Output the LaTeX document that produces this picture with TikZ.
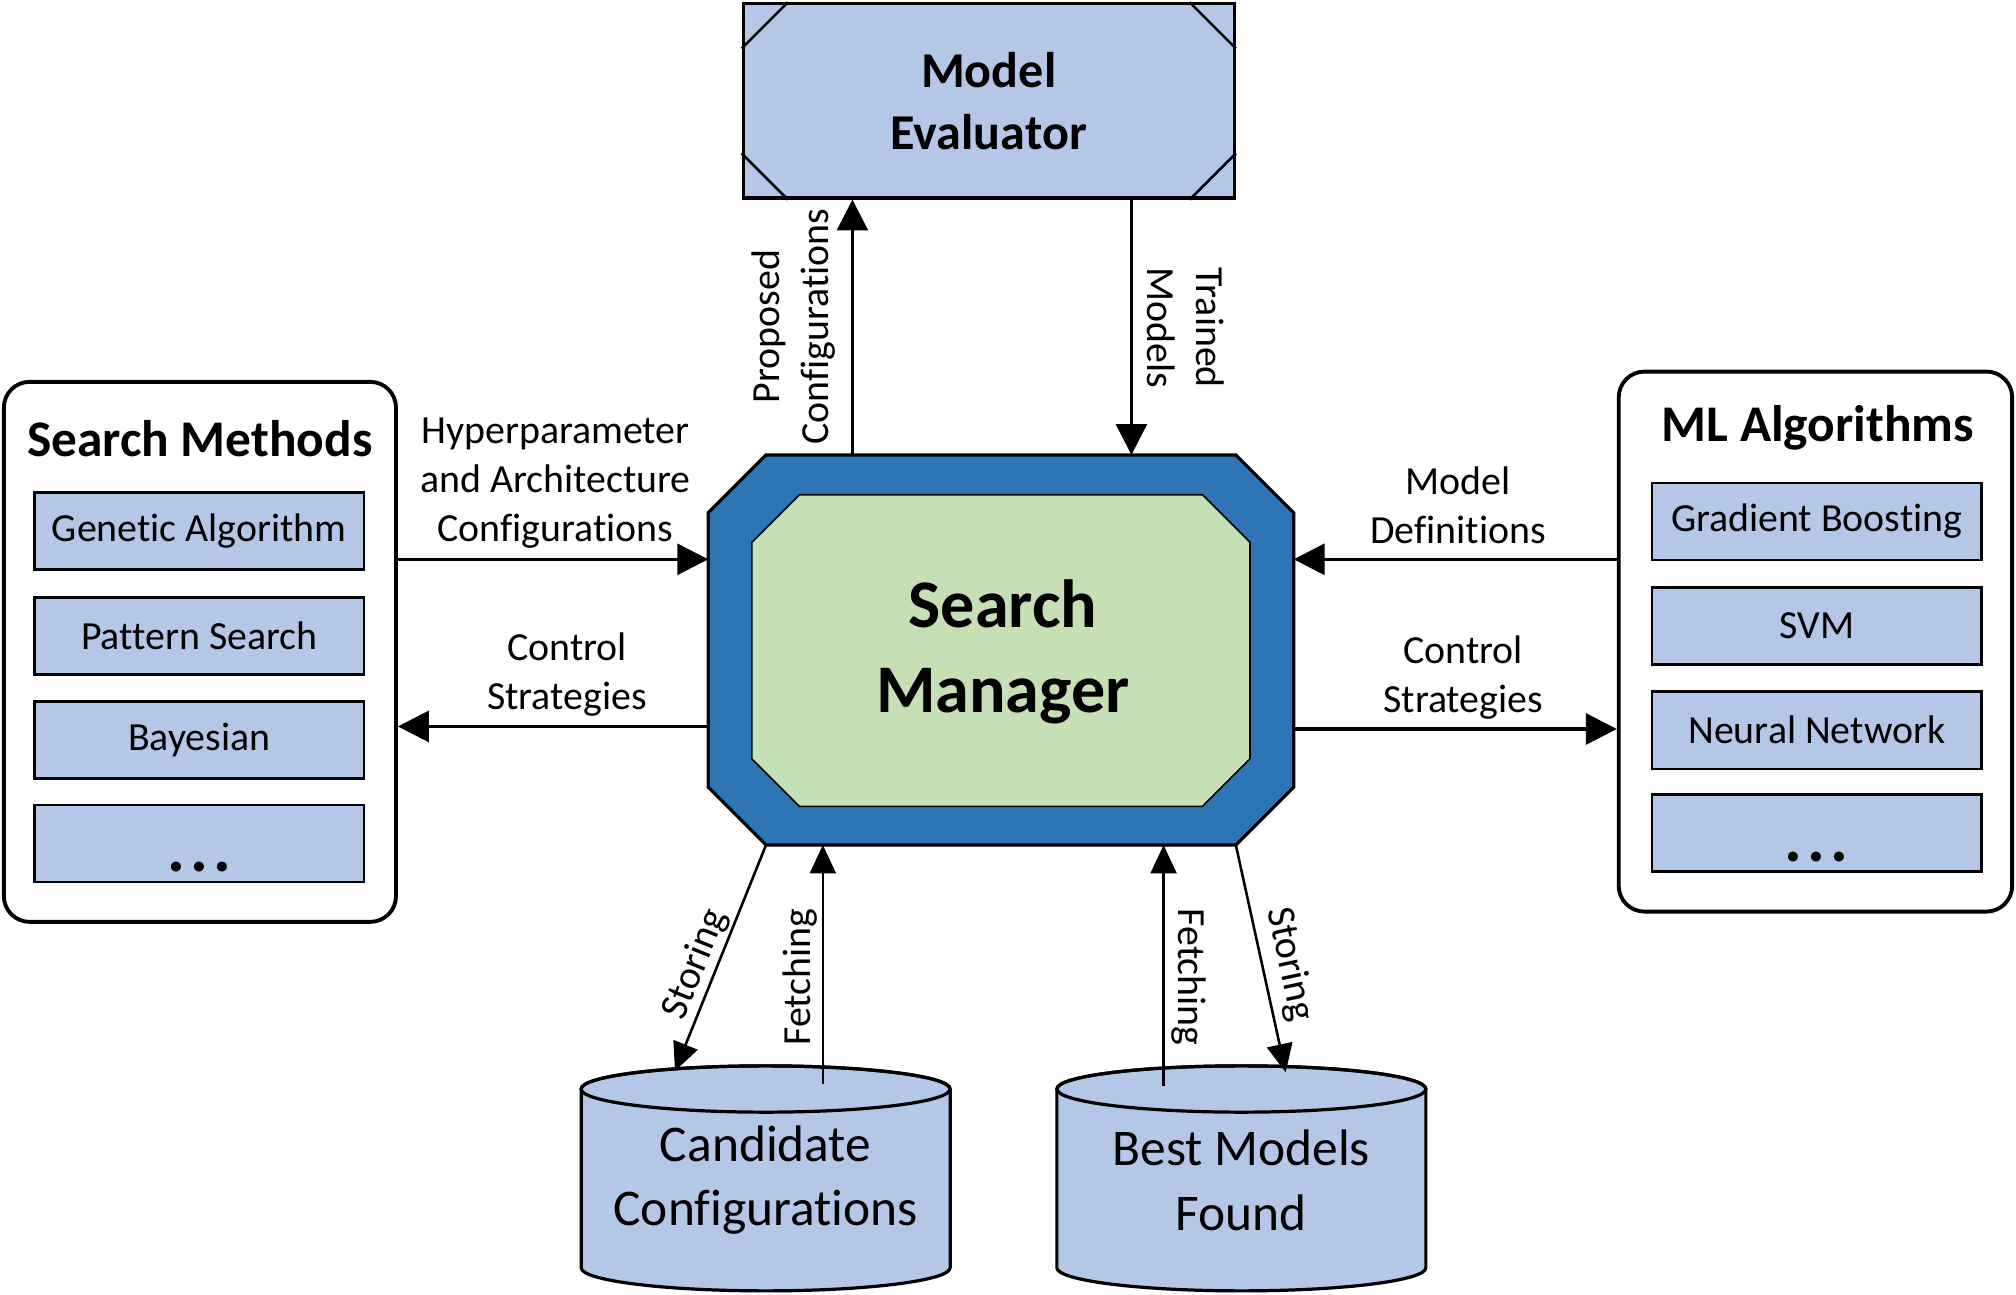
\documentclass[tikz,border=0pt]{standalone}
\usepackage{fontspec}
\setmainfont{Carlito}[Ligatures={NoCommon}]
\usetikzlibrary{arrows.meta,calc}
\definecolor{lblue}{HTML}{B4C7E7}
\definecolor{dblue}{HTML}{2E75B6}
\definecolor{lgreen}{HTML}{C5E0B4}
\begin{document}
\begin{tikzpicture}[x=1pt,y=-1pt,
  lbl/.style={font=\fontsize{31}{38}\selectfont, align=center, inner sep=0pt},
  item/.style={draw, fill=lblue, line width=2pt, minimum width=256pt, minimum height=60pt, inner sep=0pt, font=\fontsize{31}{38}\selectfont},
  panel/.style={draw, line width=3pt, rounded corners=20pt, fill=white},
  ttl/.style={font=\fontsize{40}{48}\bfseries\selectfont, inner sep=0pt},
  dots/.style={font=\fontsize{52}{52}\bfseries\selectfont, inner sep=0pt, anchor=base},
  arr/.style={line width=2.5pt, -{Triangle[length=24pt,width=24pt]}},
  sarr/.style={line width=2pt, -{Triangle[length=22pt,width=20pt]}},
  cylshape/.style={draw, line width=2.5pt, fill=lblue},
  cyltext/.style={font=\fontsize{40}{50}\selectfont, align=center, inner sep=0pt},
]
\useasboundingbox (0,0) rectangle (1568,1007);

% ---------- Search Methods panel
\node[panel, minimum width=305pt, minimum height=420pt] (smeth) at (155.5,507) {};
\node[ttl] (smethT) at (155.5,341) {Search Methods};
\node[item] (s1) at (155,413) {Genetic Algorithm};
\node[item] (s2) at (155,494.5) {Pattern Search};
\node[item] (s3) at (155,575.5) {Bayesian};
\node[item] (s4) at (155,656) {};
\node[dots] (s4d) at (155,678) {.\hspace{4pt}.\hspace{4pt}.};

% ---------- ML Algorithms panel
\node[panel, minimum width=306pt, minimum height=420pt] (mla) at (1412,499) {};
\node[ttl] (mlaT) at (1414,333) {ML Algorithms};
\node[item] (m1) at (1413,405.5) {Gradient Boosting};
\node[item] (m2) at (1413,487) {SVM};
\node[item] (m3) at (1413,568) {Neural Network};
\node[item] (m4) at (1413,648) {};
\node[dots] (m4d) at (1413,670) {.\hspace{4pt}.\hspace{4pt}.};

% ---------- Model Evaluator
\node[draw, fill=lblue, line width=2.5pt, minimum width=382pt, minimum height=151pt,
      font=\fontsize{39}{48}\bfseries\selectfont, align=center, inner sep=0pt] (me) at (769,78.5) {Model\\Evaluator};
\draw[line width=2pt] ($(me.north west)+(0,36)$) -- ($(me.north west)+(36,0)$);
\draw[line width=2pt] ($(me.north east)+(0,36)$) -- ($(me.north east)+(-36,0)$);
\draw[line width=2pt] ($(me.south west)+(0,-36)$) -- ($(me.south west)+(36,0)$);
\draw[line width=2pt] ($(me.south east)+(0,-36)$) -- ($(me.south east)+(-36,0)$);

% ---------- Search Manager
\node[minimum width=455pt, minimum height=303pt, inner sep=0pt] (sm) at (778.5,505.5) {};
\draw[fill=dblue, line width=2.5pt]
  ($(sm.north west)+(45,0)$) -- ($(sm.north east)+(-45,0)$) -- ($(sm.north east)+(0,45)$)
  -- ($(sm.south east)+(0,-45)$) -- ($(sm.south east)+(-45,0)$) -- ($(sm.south west)+(45,0)$)
  -- ($(sm.south west)+(0,-45)$) -- ($(sm.north west)+(0,45)$) -- cycle;
\coordinate (inw) at ($(sm.north west)+(34,31)$);
\coordinate (ise) at ($(sm.south east)+(-34,-30)$);
\draw[fill=lgreen, line width=1.2pt]
  ($(inw)+(37,0)$) -- ($(ise |- inw)+(-37,0)$) -- ($(ise |- inw)+(0,37)$)
  -- ($(ise)+(0,-37)$) -- ($(ise)+(-37,0)$) -- ($(inw |- ise)+(37,0)$)
  -- ($(inw |- ise)+(0,-37)$) -- ($(inw)+(0,37)$) -- cycle;
\node[font=\fontsize{53}{66}\bfseries\selectfont, align=center, inner sep=0pt] (smt) at (780,507) {Search\\Manager};

% ---------- Cylinders
\path[cylshape] (452,847) -- (452,986) arc[start angle=180, end angle=360, x radius=143.5pt, y radius=18pt]
  -- (739,847) arc[start angle=0, end angle=180, x radius=143.5pt, y radius=18pt] -- cycle;
\draw[line width=2.5pt] (595.5,847) ellipse[x radius=143.5pt, y radius=18pt];
\node[cyltext] (cand) at (595.5,918) {Candidate\\Configurations};

\path[cylshape] (822,847) -- (822,986) arc[start angle=180, end angle=360, x radius=143.5pt, y radius=18pt]
  -- (1109,847) arc[start angle=0, end angle=180, x radius=143.5pt, y radius=18pt] -- cycle;
\draw[line width=2.5pt] (965.5,847) ellipse[x radius=143.5pt, y radius=18pt];
\node[cyltext] (best) at (965.5,918) {Best Models\\Found};

% ---------- Connectors
\coordinate (xprop) at (663,0);
\coordinate (xtrain) at (880,0);
\coordinate (yhyp) at (0,435);
\coordinate (yctl) at (0,565);
\coordinate (ymd) at (0,435);
\coordinate (yctr) at (0,567);
\draw[arr] (sm.north -| xprop) -- (me.south -| xprop);
\draw[arr] (me.south -| xtrain) -- (sm.north -| xtrain);
\draw[arr] (smeth.east |- yhyp) -- (sm.west |- yhyp);
\draw[arr] (sm.west |- yctl) -- (smeth.east |- yctl);
\draw[arr] (mla.west |- ymd) -- (sm.east |- ymd);
\draw[arr] (sm.east |- yctr) -- (mla.west |- yctr);

\coordinate (stL) at (525,833);
\coordinate (feL) at (640,843);
\coordinate (feR) at (905,845);
\coordinate (stR) at (1000,834);
\draw[sarr] ($(sm.south west)+(45,0)$) -- (stL);
\draw[sarr] (feL) -- (sm.south -| feL);
\draw[sarr] (feR) -- (sm.south -| feR);
\draw[sarr] ($(sm.south east)+(-45,0)$) -- (stR);

% ---------- Labels
\node[lbl] (lhyp) at (432,375.5) {Hyperparameter\\and Architecture\\Configurations};
\node[lbl] (lctl) at (441,525) {Control\\Strategies};
\node[lbl] (lmd) at (1134,393) {Model\\Definitions};
\node[lbl] (lctr) at (1138,527) {Control\\Strategies};
\node[lbl, rotate=90] (lprop) at (617,254) {Proposed\\Configurations};
\node[lbl, rotate=-90] (ltrain) at (922,255) {Trained\\Models};
\node[lbl, rotate=68] (lstL) at (541,750) {Storing};
\node[lbl, rotate=90] (lfeL) at (622,760) {Fetching};
\node[lbl, rotate=-90] (lfeR) at (925,760) {Fetching};
\node[lbl, rotate=-78] (lstR) at (1003,750) {Storing};
\end{tikzpicture}
\end{document}
